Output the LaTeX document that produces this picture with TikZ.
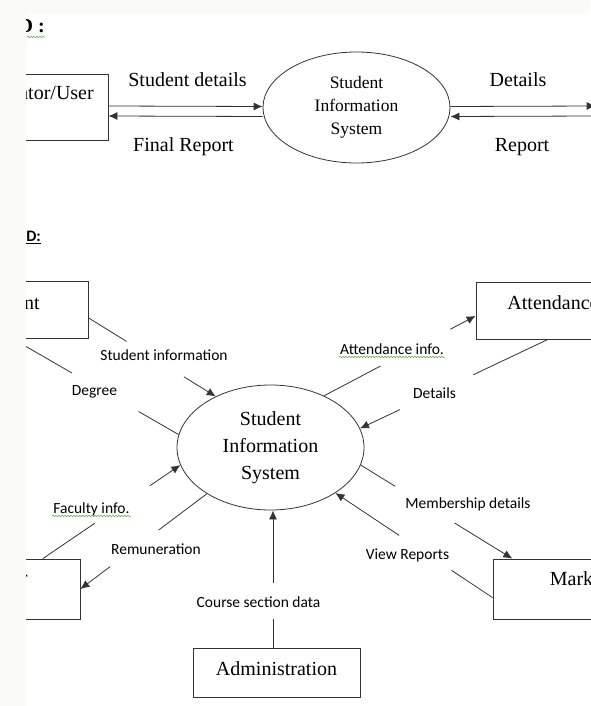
\documentclass[tikz,border=0pt]{standalone}
\usepackage{fontspec}
\setmainfont{Liberation Serif}
\newfontfamily\calfont{Carlito}
\usetikzlibrary{shapes.geometric,arrows.meta,calc,decorations.pathmorphing}
\definecolor{paper}{RGB}{250,250,246}
\definecolor{squiggle}{RGB}{95,170,70}
\tikzset{
  ent/.style={draw=black!80,line width=0.8pt,minimum height=57pt,inner sep=0pt,
    text height=12pt,text depth=#1,font=\fontsize{20}{24}\selectfont},
  ent/.default=14pt,
  proc/.style={ellipse,draw=black!80,line width=0.8pt,inner sep=0pt,align=center},
  flow/.style={line width=0.8pt,draw=black!80,-{Latex[length=9pt,width=8pt]}},
  plain/.style={line width=0.8pt,draw=black!80},
  lbl/.style={font=\calfont\fontsize{15.5}{18}\selectfont,inner sep=0pt},
  toplbl/.style={font=\fontsize{20}{24}\selectfont,inner sep=0pt},
  spell/.style={draw=squiggle,line width=0.5pt,decorate,
    decoration={snake,amplitude=0.8pt,segment length=3pt}}
}
\begin{document}
\begin{tikzpicture}[x=1pt,y=-1pt]
\useasboundingbox (0,0) rectangle (590,706);

% context diagram
\node[font=\bfseries\fontsize{20}{24}\selectfont,inner sep=0pt,anchor=east] (title0) at (45,26) {DFD :};
\draw[spell] (27,37) -- (45,37);
\node[ent=26pt,minimum width=184pt,minimum height=66pt] (usr) at (16,107) {Administrator/User};
\node[ent,minimum width=168pt,minimum height=66pt] (ext) at (680,107) {};
\node[proc,minimum width=187pt,minimum height=111pt,font=\fontsize{17.5}{23}\selectfont] (sis0) at (356.5,107.5) {Student\\Information\\System};
\draw[flow] ([yshift=1pt]usr.east) -- ([yshift=1pt]sis0.west);
\draw[flow] ([yshift=-9pt]sis0.west) -- ([yshift=-9pt]usr.east);
\draw[flow] ([yshift=1pt]sis0.east) -- ([yshift=1pt]ext.west);
\draw[flow] ([yshift=-9pt]ext.west) -- ([yshift=-9pt]sis0.east);
\node[toplbl] (lsd) at (187.5,80) {Student details};
\node[toplbl] (lfr) at (183.5,147) {Final Report};
\node[toplbl] (ldt) at (518,80) {Details};
\node[toplbl] (lrp) at (522,147) {Report};

% level 1 diagram
\node[font=\calfont\bfseries\fontsize{16}{19}\selectfont,inner sep=0pt,anchor=east] (title1) at (41,236) {DFD:};
\draw[line width=0.7pt] (26,243) -- (41,243);
\node[proc,minimum width=187pt,minimum height=125pt,font=\fontsize{20}{27}\selectfont] (sis) at (270.5,447.5) {Student\\Information\\System};
\node[ent=13pt,minimum width=158pt] (stu) at (9,309.5) {Student};
\node[ent=14pt,minimum width=154pt] (att) at (553,310.5) {Attendance};
\node[ent=22pt,minimum width=168pt,minimum height=60pt] (fac) at (-4,589) {Teacher};
\node[ent=20pt,minimum width=197pt,minimum height=60pt] (mkt) at (591.5,589) {Marketing};
\node[ent=7pt,minimum width=167pt,minimum height=49pt] (adm) at (276.5,672.5) {Administration};

\draw[plain] (stu.-6) -- ($(stu.-6)!.30!(sis.137.5)$);
\draw[flow] ($(stu.-6)!.75!(sis.137.5)$) -- (sis.137.5);
\node[lbl] (lsi) at (164,355) {Student information};

\draw[plain] (sis.172.4) -- ($(sis.172.4)!.24!(stu.-84)$);
\draw[flow] ($(sis.172.4)!.64!(stu.-84)$) -- (stu.-84);
\node[lbl] (ldg) at (94.5,392) {Degree};

\draw[plain] (sis.44.5) -- ($(sis.44.5)!.373!(att.184.8)$);
\draw[flow] ($(sis.44.5)!.833!(att.184.8)$) -- (att.184.8);
\node[lbl] (lai) at (392,349) {Attendance info.};
\draw[spell] (339,357) -- (445,357);

\draw[plain] (att.260) -- ($(att.260)!.397!(sis.12)$);
\draw[flow] ($(att.260)!.788!(sis.12)$) -- (sis.12);
\node[lbl] (lad) at (434.5,393) {Details};

\draw[plain] (fac.33.1) -- ($(fac.33.1)!.378!(sis.191.2)$);
\draw[flow] ($(fac.33.1)!.778!(sis.191.2)$) -- (sis.191.2);
\node[lbl] (lfi) at (91.5,509) {Faculty info.};
\draw[spell] (52,516) -- (131,516);

\draw[plain] (sis.216.5) -- ($(sis.216.5)!.382!(fac.east)$);
\draw[flow] ($(sis.216.5)!.764!(fac.east)$) -- (fac.east);
\node[lbl] (lrm) at (156,549) {Remuneration};

\coordinate (admtop) at ([xshift=-3.5pt]adm.north);
\coordinate (sisbot) at ([xshift=2.5pt]sis.south);
\draw[plain] (admtop) -- ($(admtop)!.21!(sisbot)$);
\draw[flow] ($(admtop)!.47!(sisbot)$) -- (sisbot);
\node[lbl] (lcs) at (258.5,602) {Course section data};

\draw[plain] (sis.349.5) -- ($(sis.349.5)!.228!(mkt.159.8)$);
\draw[flow] ($(sis.349.5)!.62!(mkt.159.8)$) -- (mkt.159.8);
\node[lbl] (lmd) at (468,504) {Membership details};

\draw[plain] (mkt.185.8) -- ($(mkt.185.8)!.261!(sis.325)$);
\draw[flow] ($(mkt.185.8)!.595!(sis.325)$) -- (sis.325);
\node[lbl] (lvr) at (407.5,555) {View Reports};

% page edges
\fill[paper] (0,0) rectangle (26,706);
\fill[paper] (0,0) rectangle (590,13);
\end{tikzpicture}
\end{document}
